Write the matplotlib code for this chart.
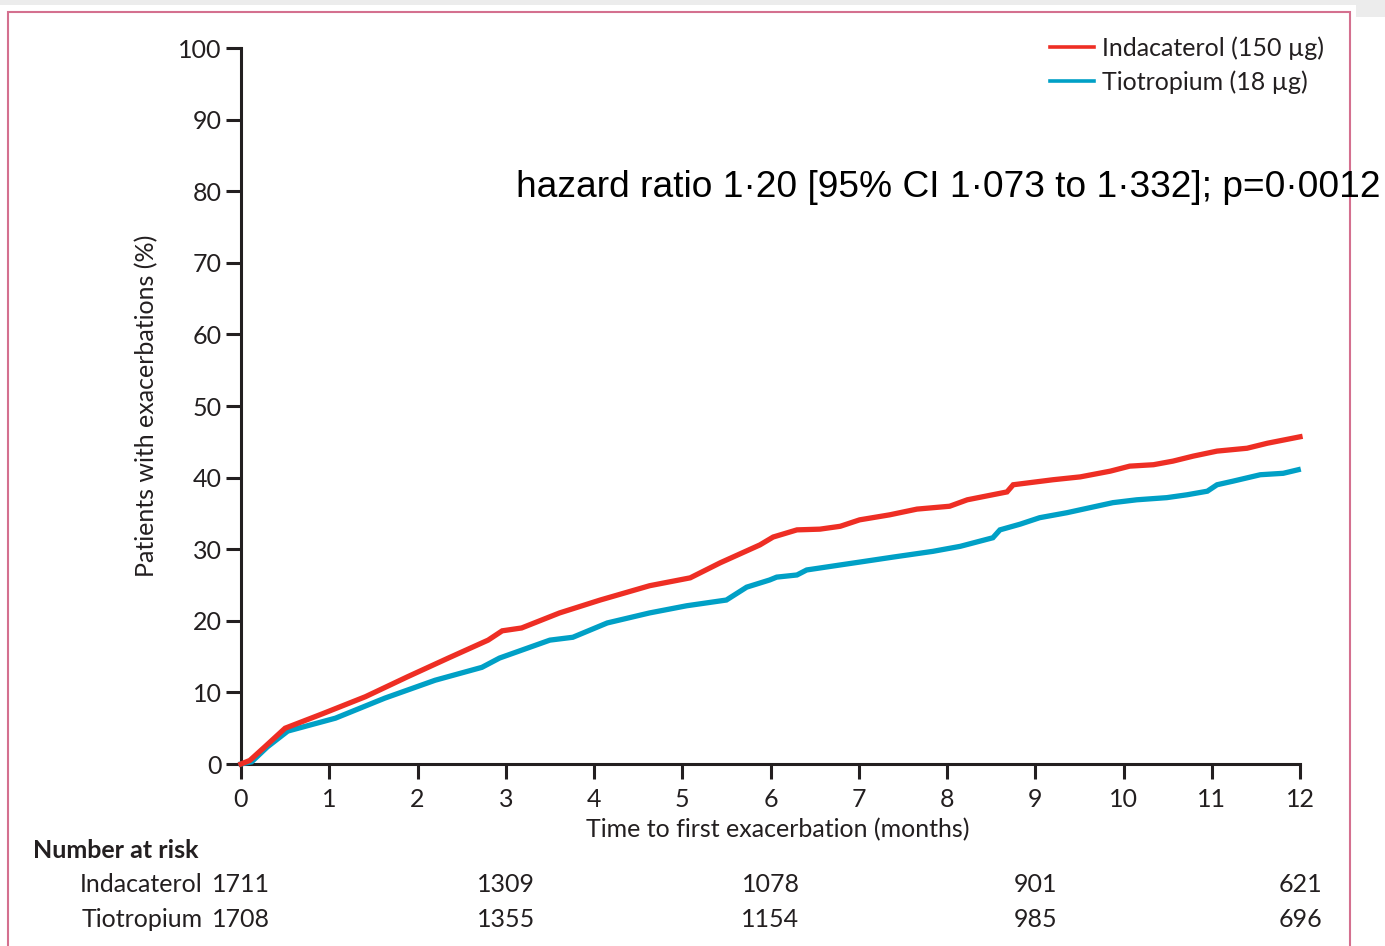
import matplotlib
matplotlib.use("Agg")
import matplotlib.pyplot as plt
from matplotlib.patches import Rectangle
from matplotlib.lines import Line2D

# Kaplan-Meier style cumulative exacerbation curves (months, % of patients)
months_ind = [0, 0.1, 0.27, 0.5, 0.92, 1.41, 1.89, 2.35, 2.8, 2.96, 3.18, 3.61, 4.07,
              4.63, 5.09, 5.43, 5.88, 6.03, 6.3, 6.56, 6.79, 7.01, 7.35, 7.66, 8.03,
              8.23, 8.68, 8.75, 9.2, 9.51, 9.85, 10.07, 10.34, 10.56, 10.79, 11.06,
              11.4, 11.63, 12.0]
pct_ind = [0, 0.5, 2.4, 5.0, 7.0, 9.4, 12.2, 14.8, 17.3, 18.6, 19.0, 21.1, 22.9,
           24.9, 26.0, 28.1, 30.6, 31.7, 32.7, 32.8, 33.2, 34.1, 34.8, 35.6, 36.0,
           36.9, 38.0, 39.0, 39.7, 40.1, 40.9, 41.6, 41.8, 42.3, 43.0, 43.7,
           44.1, 44.8, 45.7]

months_tio = [0, 0.12, 0.3, 0.53, 1.07, 1.63, 2.2, 2.73, 2.93, 3.5, 3.76, 4.15, 4.63,
              5.05, 5.5, 5.73, 5.99, 6.07, 6.3, 6.41, 6.79, 7.01, 7.39, 7.84, 8.15,
              8.52, 8.6, 8.83, 9.05, 9.36, 9.62, 9.88, 10.15, 10.49, 10.72, 10.95,
              11.06, 11.24, 11.55, 11.81, 11.98]
pct_tio = [0, 0.3, 2.4, 4.6, 6.4, 9.2, 11.7, 13.5, 14.8, 17.3, 17.7, 19.7, 21.1,
           22.1, 22.9, 24.7, 25.7, 26.1, 26.4, 27.1, 27.8, 28.2, 28.9, 29.7, 30.4,
           31.6, 32.7, 33.5, 34.4, 35.1, 35.8, 36.5, 36.9, 37.2, 37.6, 38.1,
           39.0, 39.5, 40.4, 40.6, 41.1]

risk_months = [0, 3, 6, 9, 12]
risk_ind = [1711, 1309, 1078, 901, 621]
risk_tio = [1708, 1355, 1154, 985, 696]

x_ticks = list(range(0, 13))
y_ticks = list(range(0, 101, 10))

RED = "#ee2e24"
BLUE = "#00a0c6"
INK = "#231f20"
FONT = "Lato"
FS = 18

W, H = 1385, 946
fig = plt.figure(figsize=(W / 100, H / 100), dpi=100)


def fx(px):
    return px / W


def fy(py):
    return 1 - py / H


# page frame
fig.add_artist(Rectangle((0, fy(5)), 1, fy(0) - fy(5), transform=fig.transFigure,
                         facecolor="#ececec", edgecolor="none", zorder=0))
fig.add_artist(Rectangle((fx(1356), fy(17)), 1 - fx(1356), fy(0) - fy(17),
                         transform=fig.transFigure, facecolor="#ececec",
                         edgecolor="none", zorder=0))
fig.add_artist(Rectangle((fx(8), -0.01), fx(1350) - fx(8), fy(12) + 0.01,
                         transform=fig.transFigure, facecolor="none",
                         edgecolor="#d4708f", linewidth=1.5, zorder=1))

ax = fig.add_axes([fx(241), fy(764), fx(1300) - fx(241), fy(48) - fy(764)])
ax.plot(months_tio, pct_tio, color=BLUE, lw=3.8, solid_joinstyle="miter",
        clip_on=False, zorder=3)
ax.plot(months_ind, pct_ind, color=RED, lw=3.8, solid_joinstyle="miter",
        clip_on=False, zorder=4)

ax.set_xlim(0, 12)
ax.set_ylim(0, 100)
ax.set_xticks(x_ticks)
ax.set_yticks(y_ticks)
for s in ["top", "right"]:
    ax.spines[s].set_visible(False)
for s in ["left", "bottom"]:
    ax.spines[s].set_linewidth(2.2)
    ax.spines[s].set_color(INK)
ax.tick_params(axis="both", direction="out", length=11, width=2.2, color=INK,
               labelcolor=INK, labelsize=FS)
ax.tick_params(axis="x", pad=6)
ax.tick_params(axis="y", pad=3)
for lab in ax.get_xticklabels() + ax.get_yticklabels():
    lab.set_fontfamily(FONT)

# axis titles
fig.text(fx(147), fy(406), "Patients with exacerbations (%)", rotation=90,
         family=FONT, fontsize=FS, color=INK, ha="center", va="center")
fig.text(fx(778), fy(830), "Time to first exacerbation (months)",
         family=FONT, fontsize=FS, color=INK, ha="center", va="center")

handles = [Line2D([0], [0], color=RED, lw=2.6, label="Indacaterol (150 µg)"),
           Line2D([0], [0], color=BLUE, lw=2.6, label="Tiotropium (18 µg)")]
fig.legend(handles=handles, loc="upper right", bbox_to_anchor=(fx(1337), fy(24)),
           frameon=False, prop={"family": FONT, "size": FS}, handlelength=1.75,
           handletextpad=0.35, labelspacing=0.4, borderpad=0, labelcolor=INK)

fig.text(fx(516), fy(197), "hazard ratio 1·20 [95% CI 1·073 to 1·332]; p=0·0012",
         family="Liberation Sans", fontsize=26.7, color="black", va="baseline")

# number-at-risk table
fig.text(fx(33), fy(850), "Number at risk", family=FONT, fontsize=FS,
         fontweight="bold", color=INK, va="center")
for name, counts, ypx in [("Indacaterol", risk_ind, 884), ("Tiotropium", risk_tio, 919)]:
    fig.text(fx(203), fy(ypx), name, family=FONT, fontsize=FS, color=INK,
             ha="right", va="center")
    for m, n in zip(risk_months, counts):
        xpx = 241 + (1300 - 241) * m / 12
        fig.text(fx(xpx), fy(ypx), str(n), family=FONT, fontsize=FS, color=INK,
                 ha="center", va="center")

fig.savefig("out.png", dpi=100)
